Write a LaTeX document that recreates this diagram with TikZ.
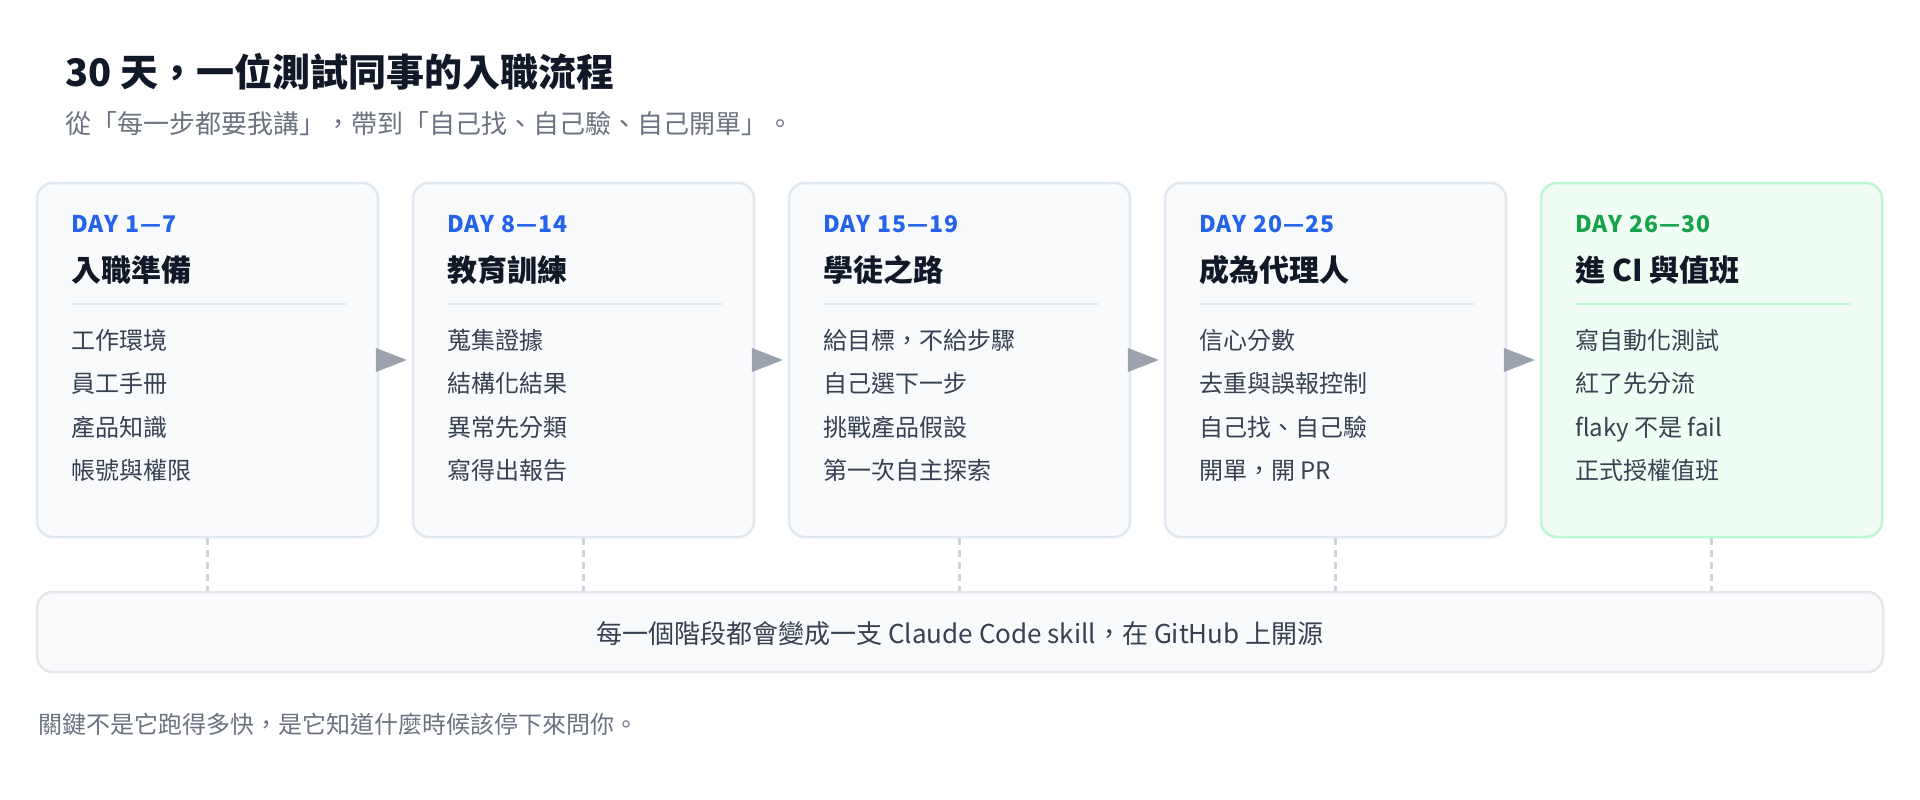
\documentclass[tikz,border=0pt]{standalone}
\usepackage{fontspec}
\setmainfont{Noto Sans CJK TC}
\newfontfamily\dayfont{Noto Sans CJK TC}[LetterSpace=5]
\usetikzlibrary{arrows.meta,calc}
\definecolor{titlec}{HTML}{111827}
\definecolor{subc}{HTML}{6B7280}
\definecolor{itemc}{HTML}{374151}
\definecolor{boxfill}{HTML}{F8FAFC}
\definecolor{boxline}{HTML}{E2E8F0}
\definecolor{greenfill}{HTML}{F0FDF4}
\definecolor{greenline}{HTML}{BBF7D0}
\definecolor{dayblue}{HTML}{2563EB}
\definecolor{daygreen}{HTML}{16A34A}
\definecolor{arrowc}{HTML}{9CA3AF}
\definecolor{dashcol}{HTML}{CBD5E1}
\definecolor{botline}{HTML}{E5E7EB}
\begin{document}
\begin{tikzpicture}[x=1pt,y=-1pt,
  phasebox/.style={rectangle, rounded corners=16pt, line width=2.5pt, minimum width=341pt, minimum height=354pt, inner sep=0pt},
  daytxt/.style={anchor=base west, inner sep=0pt, font=\fontsize{23}{27}\dayfont\bfseries},
  ttltxt/.style={anchor=base west, inner sep=0pt, text=titlec, font=\fontsize{30}{36}\selectfont\bfseries},
  itemtxt/.style={anchor=base west, inner sep=0pt, text=itemc, font=\fontsize{24}{28}\selectfont},
  divline/.style={line width=2.5pt},
  flowarrow/.style={draw=arrowc, fill=arrowc, line width=1pt, shorten >=5pt, -{Triangle[length=31pt,width=24pt]}},
  dashlink/.style={draw=dashcol, line width=3pt, dash pattern=on 7pt off 5pt},
  botbox/.style={rectangle, rounded corners=16pt, line width=2.5pt, fill=boxfill, draw=botline, minimum width=1846pt, minimum height=80pt, inner sep=0pt}
]
\fill[white] (0,0) rectangle (1920,800);
\useasboundingbox (0,0) rectangle (1920,800);

\node[anchor=base west, inner sep=0pt, text=titlec, font=\fontsize{38}{44}\selectfont\bfseries] (title) at (65,86) {30 天，一位測試同事的入職流程};
\node[anchor=base west, inner sep=0pt, text=subc, font=\fontsize{26}{30}\selectfont] (subtitle) at (65,133.5) {從「每一步都要我講」，帶到「自己找、自己驗、自己開單」。};

\foreach \i/\fc/\lc/\dc/\dy/\ttl/\ia/\ib/\ic/\id in {
  1/boxfill/boxline/dayblue/DAY 1—7/入職準備/工作環境/員工手冊/產品知識/帳號與權限,
  2/boxfill/boxline/dayblue/DAY 8—14/教育訓練/蒐集證據/結構化結果/異常先分類/寫得出報告,
  3/boxfill/boxline/dayblue/DAY 15—19/學徒之路/給目標，不給步驟/自己選下一步/挑戰產品假設/第一次自主探索,
  4/boxfill/boxline/dayblue/DAY 20—25/成為代理人/信心分數/去重與誤報控制/自己找、自己驗/開單，開 PR,
  5/greenfill/greenline/daygreen/DAY 26—30/進 CI 與值班/寫自動化測試/紅了先分流/flaky 不是 fail/正式授權值班}
{
  \pgfmathsetmacro\xo{37+376*(\i-1)}
  \node[phasebox, fill=\fc, draw=\lc] (b\i) at (\xo+170.5,360) {};
  \node[daytxt, text=\dc] (d\i) at (\xo+34,232) {\dy};
  \node[ttltxt] (t\i) at (\xo+34,281) {\ttl};
  \draw[divline, draw=\lc] (\xo+34,304) -- (\xo+309,304);
  \node[itemtxt] (ia\i) at (\xo+34,349.5) {\ia};
  \node[itemtxt] (ib\i) at (\xo+34,392.5) {\ib};
  \node[itemtxt] (ic\i) at (\xo+34,436) {\ic};
  \node[itemtxt] (id\i) at (\xo+34,479.5) {\id};
}

\foreach \i [evaluate=\i as \j using int(\i+1)] in {1,...,4}
  \draw[flowarrow] (b\i.east) -- (b\j.west);

\node[botbox] (bot) at (960,632) {};
\node[anchor=base, inner sep=0pt, text=itemc, font=\fontsize{26}{30}\selectfont] (bottxt) at (960,643) {每一個階段都會變成一支 Claude Code skill，在 GitHub 上開源};

\foreach \i in {1,...,5}
  \draw[dashlink] (b\i.south) -- (b\i.south |- bot.north);

\node[anchor=base west, inner sep=0pt, text=subc, font=\fontsize{24}{28}\selectfont] (footer) at (38,733) {關鍵不是它跑得多快，是它知道什麼時候該停下來問你。};
\end{tikzpicture}
\end{document}
